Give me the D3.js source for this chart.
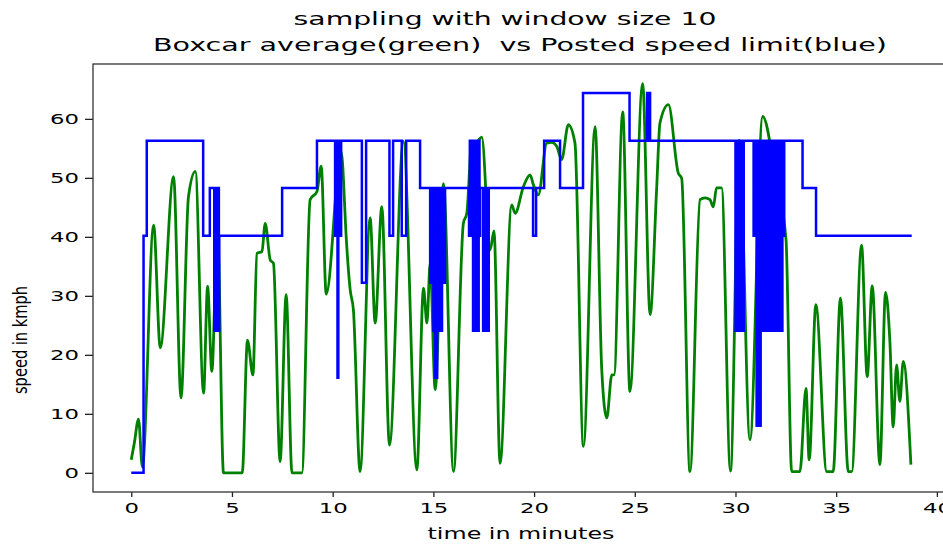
<!DOCTYPE html>
<html>
<head>
<meta charset="utf-8">
<script src="https://cdn.jsdelivr.net/npm/d3@7"></script>
<style>
  html,body{margin:0;padding:0;background:#fff;}
  svg{display:block;}
  text{font-family:"DejaVu Sans",sans-serif;fill:#000;white-space:pre;}
</style>
</head>
<body>
<svg id="chart" width="943" height="544"></svg>
<script>
// ── data ──
// boxcar-averaged speed (green), minutes / kmph
const speedT=[0.00,0.15,0.36,0.55,1.11,1.44,2.10,2.47,2.84,3.18,
  3.59,3.79,4.00,4.28,4.58,5.51,5.77,6.04,6.24,6.49,
  6.65,6.90,7.06,7.39,7.69,7.98,8.47,8.88,9.22,9.43,
  9.68,10.42,10.67,10.70,10.87,11.03,11.36,11.86,12.11,12.44,
  12.82,13.51,14.18,14.51,14.68,14.84,15.09,15.50,16.00,16.49,
  16.66,16.91,17.16,17.40,17.82,18.01,18.31,18.89,19.06,19.47,
  19.80,19.97,20.21,20.63,20.88,21.13,21.37,21.70,22.03,22.45,
  23.03,23.36,23.61,23.86,23.97,24.40,24.76,25.39,25.76,26.09,
  26.25,26.67,27.16,27.33,27.74,28.24,28.49,28.73,28.90,29.06,
  29.31,29.75,30.19,30.72,31.35,32.00,32.51,32.79,33.20,33.50,
  33.66,33.99,34.53,34.85,35.21,35.60,35.77,36.26,36.54,36.79,
  37.17,37.45,37.67,37.83,38.00,38.16,38.33,38.71];
const speedV=[2.2,5,9.1,1.0,42.0,21.2,50.2,12.7,46.8,51.1,
  13.5,31.6,17.2,41.7,0,0,22.5,16.6,37.2,37.5,
  42.3,36.1,35.5,1.9,30.2,0,0,46.3,47.7,52.0,
  30.3,54.5,40.1,38.4,31.0,27.6,0.2,43.2,25.4,45.1,
  4.7,56.2,0.5,31.3,25.4,35.5,14.1,49.0,0.2,42.3,
  44.0,56.2,56.2,56.9,37.8,41.0,1.6,45.4,44.0,48.5,
  50.5,48.8,47.1,55.9,56.0,55.3,53.1,59.0,55.9,4.5,
  58.7,17.5,9.3,16.6,16.6,61.2,13.8,66.0,26.8,48.5,
  59.3,62.4,50.8,49.9,0.2,46.3,46.6,46.3,45.1,48.3,
  48.3,0.3,56.4,5.6,60.4,50,39.5,0.2,0.2,14.3,
  2.2,28.5,0.2,0.2,29.6,0.2,0.2,38.6,16.3,31.7,
  1.4,30.6,22.0,7.8,18.3,12.1,18.9,1.4];

// posted speed limit (blue), step changes: minutes / kmph
const limitT=[0,0.61,0.77,3.57,3.90,
  4.12,4.16,4.20,4.24,4.28,4.32,4.35,4.37,
  7.49,9.22,
  10.12,10.16,10.20,10.24,10.28,10.32,10.36,10.40,10.42,
  11.45,11.66,12.82,13.00,13.43,13.65,14.34,
  14.84,14.88,14.92,14.96,15.00,15.04,15.08,15.12,15.16,15.19,15.23,15.27,15.31,15.35,15.39,15.43,15.47,15.51,15.55,15.58,
  16.77,16.81,16.85,16.89,16.93,16.97,17.01,17.05,17.09,17.13,17.17,17.21,17.25,17.29,17.32,
  17.47,17.51,17.55,17.59,17.63,17.67,17.71,17.75,
  19.95,20.10,20.50,21.29,22.43,24.74,
  25.61,25.65,25.69,25.76,
  30.00,30.04,30.08,30.12,30.16,30.20,30.24,30.28,30.32,30.36,30.39,30.41,
  30.90,30.95,31.00,31.05,31.09,31.13,31.17,31.21,31.25,
  31.30,31.35,31.40,31.45,31.50,31.55,31.60,31.65,31.70,31.75,31.80,31.85,31.90,31.95,
  32.00,32.05,32.10,32.15,32.20,32.25,32.29,32.33,32.37,32.40,32.42,
  33.33,34.00,38.75];
const limitV=[0,40.2,56.3,40.2,48.3,
  24.1,48.3,24.1,48.3,24.1,48.3,24.1,40.2,
  48.3,56.3,
  40.2,56.3,40.2,16.1,56.3,40.2,56.3,40.2,56.3,
  32.2,56.3,40.2,56.3,40.2,56.3,48.3,
  32.2,48.3,32.2,48.3,24.1,48.3,16.1,48.3,16.1,48.3,24.1,48.3,24.1,48.3,24.1,48.3,32.2,48.3,32.2,48.3,
  40.2,56.3,40.2,56.3,40.2,24.1,56.3,24.1,56.3,24.1,56.3,24.1,56.3,40.2,48.3,
  24.1,48.3,24.1,48.3,24.1,48.3,24.1,48.3,
  40.2,48.3,56.3,48.3,64.4,56.3,
  64.4,56.3,64.4,56.3,
  24.1,56.3,24.1,56.3,24.1,56.3,24.1,56.3,24.1,56.3,24.1,56.3,
  40.2,56.3,40.2,8.0,56.3,8.0,56.3,8.0,56.3,
  24.1,56.3,24.1,56.3,24.1,56.3,24.1,56.3,24.1,56.3,24.1,56.3,24.1,56.3,
  24.1,56.3,24.1,56.3,24.1,56.3,24.1,40.2,56.3,40.2,56.3,
  48.3,40.2,40.2];

const xTicks=[0,5,10,15,20,25,30,35,40];
const yTicks=[0,10,20,30,40,50,60];
const titleLines=["sampling with window size 10","Boxcar average(green)  vs Posted speed limit(blue)"];
const xLabel="time in minutes", yLabel="speed in kmph";

// the source image is stretched sideways, so text gets widened by SX
const SX=1.56;
const L=93,R=954,T=64,B=492;

const svg=d3.select('#chart');
const x=d3.scaleLinear().domain([-1.9,40.85]).range([L,R]);
const y=d3.scaleLinear().domain([-3.25,69.3]).range([B,T]);

const speed=speedT.map((t,i)=>[t,speedV[i]]);
const limit=limitT.map((t,i)=>[t,limitV[i]]);

const plot=svg.append('g');
plot.append('path').datum(speed)
  .attr('fill','none').attr('stroke','#008000').attr('stroke-width',2.8)
  .attr('stroke-linejoin','round')
  .attr('d',d3.line().x(d=>x(d[0])).y(d=>y(d[1])).curve(d3.curveMonotoneX));
plot.append('path').datum(limit)
  .attr('fill','none').attr('stroke','#0000ff').attr('stroke-width',2.5)
  .attr('d',d3.line().x(d=>x(d[0])).y(d=>y(d[1])).curve(d3.curveStepAfter));

// axes
const gx=svg.append('g').attr('transform',`translate(0,${B})`)
  .call(d3.axisBottom(x).tickValues(xTicks).tickSize(5).tickPadding(6).tickSizeOuter(0));
const gy=svg.append('g').attr('transform',`translate(${L},0)`)
  .call(d3.axisLeft(y).tickValues(yTicks).tickSize(8).tickPadding(0).tickSizeOuter(0));
[gx,gy].forEach(g=>{
  g.select('.domain').remove();
  g.selectAll('line').attr('stroke','#222').attr('stroke-width',1.3);
  g.selectAll('text').attr('font-size',14.6).attr('font-family','DejaVu Sans').attr('fill','#222');
});
gx.selectAll('text').attr('transform',`scale(${SX},1)`);
gy.selectAll('text').attr('x',-14/SX).attr('transform',`scale(${SX},1)`);

// frame (right edge falls outside the picture)
svg.append('rect').attr('x',L).attr('y',T).attr('width',R-L).attr('height',B-T)
  .attr('fill','none').attr('stroke','#333').attr('stroke-width',1.3);

// text fitted to a measured width
function fitText(str,cx,cy,size,width){
  const g=svg.append('g');
  const t=g.append('text').text(str).attr('font-size',size).attr('text-anchor','middle').attr('fill','#222');
  const s=width/t.node().getComputedTextLength();
  g.attr('transform',`translate(${cx},${cy}) scale(${s},1)`);
  return t;
}
fitText(titleLines[0],505,25,17,423);
fitText(titleLines[1],520,51,17,734);
fitText(xLabel,521,539,15.5,187);

// y label: length runs vertically (unstretched), glyph height gets the sideways stretch
const yl=svg.append('g');
const ylt=yl.append('text').text(yLabel).attr('font-size',14.6).attr('text-anchor','middle').attr('fill','#222');
const ys=108/ylt.node().getComputedTextLength();
ylt.attr('font-size',14.6*ys);
yl.attr('transform','translate(27,340) scale(1.35,1) rotate(-90)');
</script>
</body>
</html>
